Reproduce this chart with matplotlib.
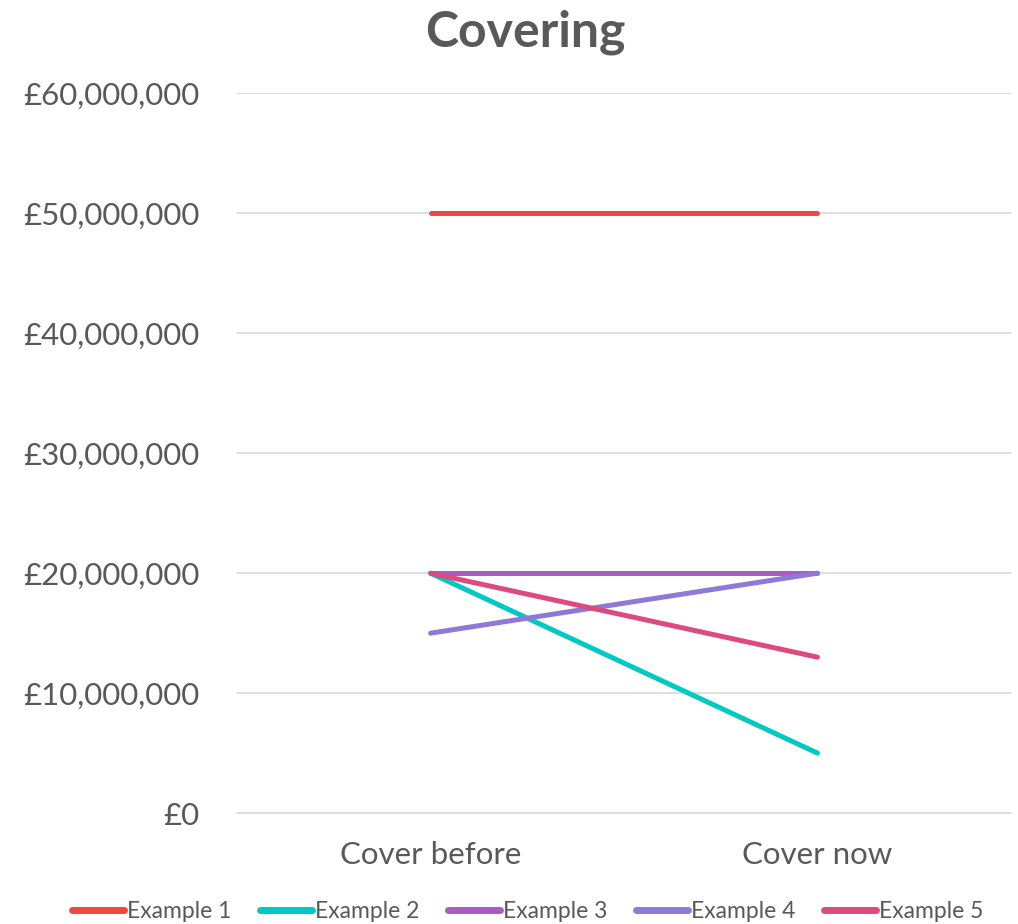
import matplotlib
matplotlib.use('Agg')
import matplotlib.pyplot as plt
from matplotlib.ticker import FuncFormatter

categories = ['Cover before', 'Cover now']
series_names = ['Example 1', 'Example 2', 'Example 3', 'Example 4', 'Example 5']
example1 = [50000000, 50000000]
example2 = [20000000, 5000000]
example3 = [20000000, 20000000]
example4 = [15000000, 20000000]
example5 = [20000000, 13000000]
colors = ['#F0473E', '#00C8C3', '#A95CC2', '#8E79D8', '#DD4A7F']

plt.rcParams['font.family'] = ['Lato', 'DejaVu Sans']
txt = '#595959'

fig = plt.figure(figsize=(10.18, 9.24), dpi=100)
ax = fig.add_axes([0.233, 0.12, 0.76, 0.779])

x = range(len(categories))
for name, vals, c in zip(series_names, [example1, example2, example3, example4, example5], colors):
    ax.plot(x, vals, color=c, lw=3.6, solid_capstyle='round', label=name)

ax.set_xlim(-0.5, 1.5)
ax.set_ylim(0, 60000000)
ax.set_yticks(range(0, 60000001, 10000000))
ax.yaxis.set_major_formatter(FuncFormatter(lambda v, p: '£{:,.0f}'.format(v)))
ax.set_xticks(list(x))
ax.set_xticklabels(categories)
ax.grid(axis='y', color='#D9D9D9', lw=1.2)
ax.set_axisbelow(True)
for s in ax.spines.values():
    s.set_visible(False)
ax.spines['bottom'].set_visible(True)
ax.spines['bottom'].set_color('#D9D9D9')
ax.spines['bottom'].set_linewidth(1.2)
ax.tick_params(length=0, labelsize=22.5, colors=txt)
ax.tick_params(axis='y', pad=27)
ax.tick_params(axis='x', pad=20)

fig.suptitle('Covering', x=0.516, y=0.99, fontsize=36, fontweight='bold', color=txt)

leg = fig.legend(loc='lower center', bbox_to_anchor=(0.518, -0.02), ncol=5, frameon=False,
                 fontsize=16.5, handlelength=2.3, handletextpad=0.1, columnspacing=1.25)
for t in leg.get_texts():
    t.set_color(txt)
for h in leg.legend_handles:
    h.set_linewidth(5)
    h.set_solid_capstyle('round')

fig.savefig('out.png', dpi=100, facecolor='white')
